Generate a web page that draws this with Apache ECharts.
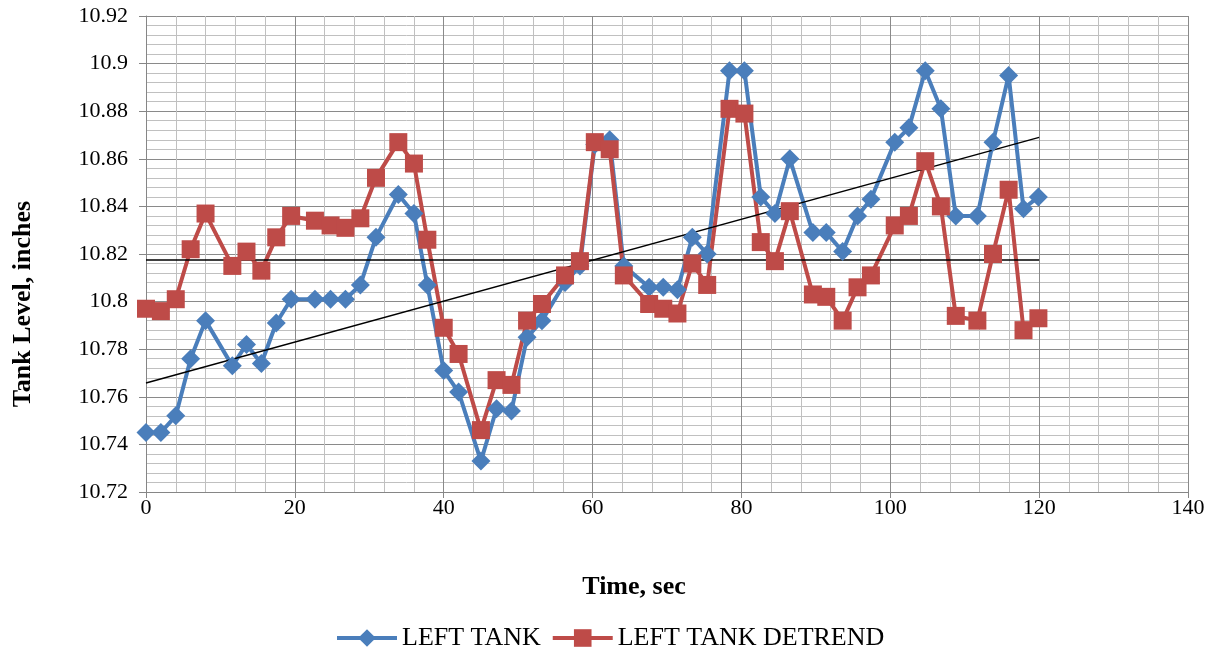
<!DOCTYPE html>
<html><head><meta charset="utf-8">
<script src="https://cdn.jsdelivr.net/npm/echarts@6/dist/echarts.min.js"></script>
<style>html,body{margin:0;padding:0;background:#fff}#c{width:1220px;height:658px}</style>
</head><body><div id="c"></div>
<script>
// Time, sec
const timeSec = [0, 2, 4, 6, 8, 11.6, 13.5, 15.5, 17.5, 19.5, 22.7, 24.8, 26.8, 28.8, 30.9, 33.9, 36.0, 37.8, 40.0, 42.0,
  45.0, 47.1, 49.1, 51.2, 53.2, 56.3, 58.3, 60.3, 62.3, 64.2, 67.6, 69.5, 71.4, 73.4, 75.4, 78.4, 80.4, 82.6, 84.5, 86.5,
  89.6, 91.4, 93.6, 95.6, 97.4, 100.6, 102.5, 104.7, 106.8, 108.8, 111.7, 113.8, 115.9, 117.9, 119.9];
// LEFT TANK, inches
const leftTank = [10.745, 10.745, 10.752, 10.776, 10.792, 10.773, 10.782, 10.774, 10.791, 10.801,
  10.801, 10.801, 10.801, 10.807, 10.827, 10.845, 10.837, 10.807, 10.771, 10.762,
  10.733, 10.755, 10.754, 10.785, 10.792, 10.808, 10.815, 10.866, 10.868, 10.815,
  10.806, 10.806, 10.805, 10.827, 10.820, 10.897, 10.897, 10.844, 10.837, 10.860,
  10.829, 10.829, 10.821, 10.836, 10.843, 10.867, 10.873, 10.897, 10.881, 10.836,
  10.836, 10.867, 10.895, 10.839, 10.844];
// LEFT TANK DETREND, inches
const leftTankDetrend = [10.797, 10.796, 10.801, 10.822, 10.837, 10.815, 10.821, 10.813, 10.827, 10.836,
  10.834, 10.832, 10.831, 10.835, 10.852, 10.867, 10.858, 10.826, 10.789, 10.778,
  10.746, 10.767, 10.765, 10.792, 10.799, 10.811, 10.817, 10.867, 10.864, 10.811,
  10.799, 10.797, 10.795, 10.816, 10.807, 10.881, 10.879, 10.825, 10.817, 10.838,
  10.803, 10.802, 10.792, 10.806, 10.811, 10.832, 10.836, 10.859, 10.840, 10.794,
  10.792, 10.820, 10.847, 10.788, 10.793];
// Linear trendlines (end points)
const trendTime = [0, 120];
const leftTankTrend = [10.7658, 10.8690];
const detrendTrend = [10.8175, 10.8175];

const seriesNames = ['LEFT TANK', 'LEFT TANK DETREND'];
const font = '"Liberation Serif","Times New Roman",serif';
const pair = (xs, ys) => xs.map((x, i) => [x, ys[i]]);

const chart = echarts.init(document.getElementById('c'), null, {renderer: 'canvas'});
chart.setOption({
  animation: false,
  backgroundColor: '#fff',
  grid: {left: 146, right: 32, top: 16, bottom: 166, containLabel: false},
  xAxis: {
    type: 'value', min: 0, max: 140, interval: 20,
    axisLine: {show: true, onZero: false, lineStyle: {color: '#868686', width: 1}},
    axisTick: {show: true, length: 6, lineStyle: {color: '#868686'}},
    axisLabel: {color: '#000', fontFamily: font, fontSize: 22, margin: 5},
    splitLine: {show: true, lineStyle: {color: '#8a8a8a', width: 1}},
    minorTick: {show: false, splitNumber: 5},
    minorSplitLine: {show: true, lineStyle: {color: '#c0c0c0', width: 1}}
  },
  yAxis: {
    type: 'value', min: 10.72, max: 10.92, interval: 0.02,
    axisLine: {show: true, onZero: false, lineStyle: {color: '#868686', width: 1}},
    axisTick: {show: true, length: 7, lineStyle: {color: '#868686'}},
    axisLabel: {color: '#000', fontFamily: font, fontSize: 22, margin: 18,
      formatter: v => String(+v.toFixed(2))},
    splitLine: {show: true, lineStyle: {color: '#8a8a8a', width: 1}},
    minorTick: {show: false, splitNumber: 5},
    minorSplitLine: {show: true, lineStyle: {color: '#c0c0c0', width: 1}}
  },
  legend: {
    data: seriesNames, left: 330, top: 620, itemWidth: 60, itemHeight: 22, itemGap: 10,
    lineStyle: {width: 4},
    textStyle: {color: '#000', fontFamily: font, fontSize: 26}
  },
  graphic: [
    {type: 'text', x: 23, y: 304, rotation: Math.PI / 2,
     style: {text: 'Tank Level, inches', fill: '#000', font: 'bold 26px "Liberation Serif"', align: 'center', verticalAlign: 'middle'}},
    {type: 'text', x: 634, y: 587,
     style: {text: 'Time, sec', fill: '#000', font: 'bold 26px "Liberation Serif"', align: 'center', verticalAlign: 'middle'}}
  ],
  series: [
    {name: seriesNames[0], type: 'line', data: pair(timeSec, leftTank),
     symbol: 'diamond', symbolSize: 19, color: '#4A7EBB',
     lineStyle: {width: 4, color: '#4A7EBB'}, itemStyle: {color: '#4A7EBB'}},
    {name: seriesNames[1], type: 'line', data: pair(timeSec, leftTankDetrend),
     symbol: 'rect', symbolSize: 18, color: '#BE4B48',
     lineStyle: {width: 4, color: '#BE4B48'}, itemStyle: {color: '#BE4B48'}},
    {name: 'trend1', type: 'line', data: pair(trendTime, leftTankTrend), symbol: 'none', silent: true,
     lineStyle: {width: 1.5, color: '#000'}},
    {name: 'trend2', type: 'line', data: pair(trendTime, detrendTrend), symbol: 'none', silent: true,
     lineStyle: {width: 1.5, color: '#000'}}
  ]
});
</script></body></html>
